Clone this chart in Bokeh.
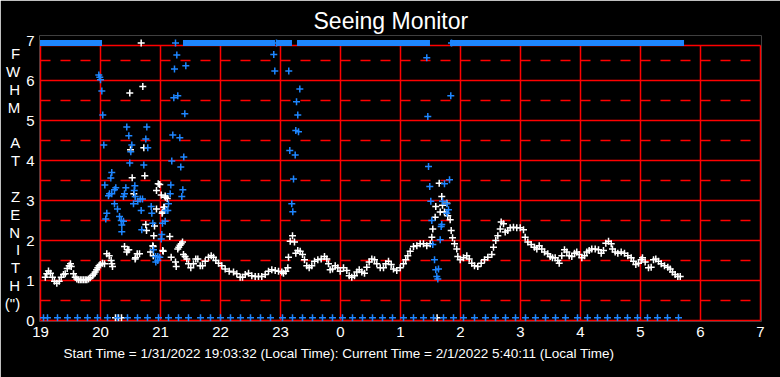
from bokeh.plotting import figure
from bokeh.models import Range1d, FixedTicker, Title
from bokeh.embed import file_html
from bokeh.resources import INLINE

# ---------------- data ----------------
TITLE = "Seeing Monitor"
CAPTION = "Start Time = 1/31/2022 19:03:32 (Local Time):  Current Time = 2/1/2022 5:40:11 (Local Time)"
Y_LABEL_LINES = ["F", "W", "H", "M", "", "A", "T", "", "Z", "E", "N", "I", "T", "H", "(\")"]
Y_TICKS = [0, 1, 2, 3, 4, 5, 6, 7]
X_TICK_HOURS = [19, 20, 21, 22, 23, 0, 1, 2, 3, 4, 5, 6, 7]

# main FWHM series (clock hours, arcsec)
WHITE_T = [19.08, 19.105, 19.133, 19.167, 19.2, 19.233, 19.272, 19.312, 19.345, 19.383, 19.412, 19.445,
           19.478, 19.5, 19.512, 19.55, 19.578, 19.605, 19.633, 19.662, 19.69, 19.717, 19.745, 19.772,
           19.8, 19.828, 19.867, 19.89, 19.912, 19.935, 19.955, 19.975, 19.995, 20.033, 20.067, 20.105,
           20.145, 20.178, 20.188, 20.2,
           20.4, 20.438, 20.455, 20.472, 20.578, 20.583, 20.612, 20.65, 20.833, 20.878, 20.88, 21.038,
           21.045, 21.178, 21.25, 21.262, 21.288, 21.305, 21.325, 21.345, 21.367, 21.383, 21.41, 21.438,
           21.467, 21.505, 21.55, 21.588, 21.622, 21.662, 21.7, 21.745, 21.8, 21.845, 21.883, 21.922,
           21.967, 22.022, 22.078, 22.145, 22.217, 22.272, 22.328, 22.367, 22.412, 22.467, 22.522, 22.578,
           22.633, 22.688, 22.745, 22.8, 22.855, 22.912, 22.967, 23.022, 23.05, 23.088, 23.122, 23.133,
           23.162, 23.2, 23.233, 23.255, 23.288, 23.328, 23.367, 23.4, 23.438, 23.478, 23.522, 23.567,
           23.622, 23.678, 23.733, 23.772, 23.8, 23.828, 23.867, 23.912, 23.955, 23.995,
           0.05, 0.105, 0.145, 0.188, 0.233, 0.272, 0.312, 0.355, 0.4, 0.438, 0.478, 0.522, 0.567, 0.605,
           0.662, 0.717, 0.755, 0.8, 0.845, 0.883, 0.938, 0.995, 1.05, 1.088, 1.122, 1.162, 1.217, 1.272,
           1.328, 1.383, 1.438, 1.495, 1.522, 1.538, 1.578, 1.588, 1.645, 1.662, 1.688, 1.7, 1.733, 1.772,
           1.788, 1.828, 1.845, 1.867, 1.9, 1.938, 1.955, 1.995, 2.05, 2.105, 2.145, 2.188, 2.233, 2.288,
           2.345, 2.4, 2.455, 2.522, 2.55, 2.588, 2.622, 2.662, 2.678, 2.717, 2.745, 2.788, 2.828, 2.883,
           2.938, 2.995, 3.05, 3.078, 3.122, 3.178, 3.233, 3.272, 3.312, 3.355, 3.4, 3.455, 3.495, 3.533,
           3.578, 3.622, 3.645, 3.688, 3.733, 3.772, 3.812, 3.855, 3.9, 3.938, 3.978, 4.022, 4.067, 4.105,
           4.145, 4.188, 4.245, 4.3, 4.345, 4.383, 4.422, 4.467, 4.512, 4.533, 4.578, 4.622, 4.678, 4.733,
           4.788, 4.845, 4.883, 4.922, 4.967, 5.012, 5.033, 5.078, 5.133, 5.178, 5.217, 5.255, 5.3, 5.345,
           5.4, 5.455, 5.495, 5.533, 5.578, 5.622, 5.662]
WHITE_V = [1.08, 1.17, 1.24, 1.18, 1.08, 0.98, 0.93, 0.98, 1.08, 1.15, 1.17, 1.3,
           1.37, 1.42, 1.35, 1.17, 1.08, 1.04, 1.02, 1.02, 1.02, 1.02, 1.02, 1.02,
           1.04, 1.07, 1.12, 1.16, 1.21, 1.27, 1.32, 1.37, 1.40, 1.43, 1.42, 1.67,
           1.62, 1.5, 1.42, 1.35,
           1.85, 1.71, 1.77, 1.77, 1.54, 1.57, 1.67, 1.67, 1.71, 1.85, 1.62, 1.75,
           1.73, 1.58, 1.46, 1.35, 1.79, 1.83, 1.88, 1.92, 1.96, 1.65, 1.6, 1.54,
           1.42, 1.32, 1.42, 1.54, 1.54, 1.37, 1.37, 1.48, 1.58, 1.62, 1.58, 1.5,
           1.43, 1.37, 1.29, 1.23, 1.21, 1.17, 1.08, 1.08, 1.15, 1.18, 1.12, 1.1,
           1.1, 1.1, 1.15, 1.23, 1.27, 1.25, 1.23, 1.21, 1.18, 1.23, 1.32, 1.58,
           1.98, 2.12, 1.96, 1.68, 1.75, 1.73, 1.65, 1.52, 1.37, 1.32, 1.37, 1.48,
           1.52, 1.54, 1.6, 1.54, 1.42, 1.27, 1.29, 1.37, 1.32, 1.23,
           1.32, 1.25, 1.12, 1.08, 1.12, 1.21, 1.27, 1.21, 1.18, 1.33, 1.46, 1.54, 1.52, 1.42,
           1.32, 1.32, 1.42, 1.48, 1.4, 1.29, 1.25, 1.32, 1.42, 1.52, 1.62, 1.73, 1.85, 1.87,
           1.92, 1.92, 1.87, 1.92, 2.08, 2.29, 2.58, 2.85, 3.43, 2.71, 3.1, 2.88, 2.71, 2.93,
           2.62, 2.52, 2.25, 2.07, 1.92, 1.79, 1.6, 1.52, 1.57, 1.62, 1.54, 1.43, 1.37, 1.35,
           1.43, 1.52, 1.58, 1.65, 1.83, 2.0, 2.12, 2.29, 2.46, 2.42, 2.21, 2.25, 2.32, 2.33,
           2.32, 2.32, 2.27, 2.08, 1.96, 1.9, 1.83, 1.79, 1.87, 1.79, 1.71, 1.67, 1.6, 1.57,
           1.57, 1.5, 1.43, 1.62, 1.77, 1.71, 1.62, 1.6, 1.68, 1.71, 1.65, 1.57, 1.62, 1.71,
           1.75, 1.79, 1.79, 1.77, 1.68, 1.75, 1.93, 1.98, 1.92, 1.79, 1.71, 1.68, 1.71, 1.68,
           1.62, 1.57, 1.48, 1.4, 1.43, 1.52, 1.57, 1.46, 1.32, 1.33, 1.52, 1.54, 1.48, 1.42,
           1.37, 1.33, 1.29, 1.21, 1.15, 1.1, 1.1]

# scattered values of the same series
WHITE_SCATTER_T = [20.705, 20.488, 20.5, 20.722, 20.528, 20.738, 20.962, 20.988, 20.933, 21.012, 20.555,
                   21.083, 21.112, 21.055, 20.933, 21.028, 20.755, 20.9, 20.767, 20.888, 21.155, 21.067,
                   21.033, 21.078, 20.872]
WHITE_SCATTER_V = [5.85, 5.69, 4.27, 4.32, 3.57, 3.62, 3.42, 3.40, 3.25, 3.14, 3.17,
                   3.08, 3.05, 2.83, 2.79, 2.68, 2.4, 2.36, 2.25, 2.12, 2.1, 2.83,
                   2.71, 3.11, 1.87]
WHITE_TOP_T = [20.678]
WHITE_BOTTOM_T = [20.25, 20.3, 20.35, 1.61]

# second (blue) series
BLUE_T = [19.972, 19.988, 20.0, 20.022, 20.038, 20.055,
          20.438, 20.772, 20.472, 20.755, 20.522, 20.788, 20.505, 20.488, 20.722,
          20.188, 20.172, 20.072, 20.255, 20.233, 20.422, 20.572, 20.562, 20.15, 20.188, 20.133, 20.4,
          20.383, 20.578, 20.662, 20.7, 20.622, 20.55, 20.233, 20.283, 20.845, 20.855, 20.105, 20.088,
          20.317, 20.345, 20.383, 20.355, 20.355, 20.678, 20.688, 20.872, 21.022, 21.012, 20.883, 20.917,
          20.955, 20.988, 20.922, 20.955,
          21.172, 21.133, 21.122, 21.088, 21.078, 21.033, 21.162, 21.372, 21.355,
          21.272, 21.233, 21.422, 21.222, 21.288, 21.405, 21.205, 21.322, 21.388, 21.188, 21.338,
          22.888, 22.905, 23.138, 23.322, 23.267, 23.288, 23.255, 23.3, 23.155, 23.245, 23.217, 23.188, 23.205,
          1.438, 1.838, 1.455, 1.467, 1.817, 1.733, 1.488, 1.505, 1.772, 1.7, 1.8, 1.772, 1.522, 1.688,
          1.678, 1.662, 1.538, 1.567, 1.588, 1.633, 1.605, 1.622]
BLUE_V = [6.14, 6.08, 6.02, 5.74, 5.14, 4.39,
          4.84, 4.84, 4.62, 4.54, 4.39, 4.32, 4.22, 3.94, 3.89,
          3.7, 3.56, 3.39, 3.32, 3.27, 3.32, 3.37, 3.25, 3.17, 3.17, 3.12, 3.17,
          3.1, 3.1, 3.04, 3.04, 2.98, 2.92, 2.92, 2.79, 2.85, 2.68, 2.68, 2.54,
          2.6, 2.5, 2.48, 2.39, 2.22, 2.75, 2.27, 2.43, 2.15, 2.04, 1.77, 1.6,
          1.6, 1.58, 1.46, 1.5,
          3.39, 2.92, 2.75, 2.75, 2.48, 2.43, 3.17, 3.27, 3.1,
          6.64, 6.29, 6.37, 5.57, 5.62, 5.17, 4.64, 4.57, 4.09, 3.99, 3.84,
          6.65, 6.24, 6.24, 5.79, 5.47, 5.14, 4.75, 4.72, 4.25, 4.14, 3.54, 2.92, 2.72,
          6.57, 5.62, 5.1, 3.85, 3.52, 3.42, 3.35, 2.98, 2.92, 2.98, 2.77, 2.68, 2.5, 2.4,
          2.35, 2.02, 1.9, 1.52, 1.27, 1.29, 1.1, 1.04]

# off-scale (top row) runs of the blue series, clock hours
TOP_RUN_START = [19.05, 21.433, 23.0, 23.333, 1.883]
TOP_RUN_END = [19.967, 22.85, 23.133, 1.433, 5.667]
TOP_SINGLE_T = [21.25, 22.933, 1.85]
TOP_VALUE = 6.94

# bottom-row samples (minutes after 19:00)
BOTTOM_MIN = [3, 7, 17, 27, 37, 47, 57, 67, 77, 87, 97, 107, 118, 128, 138, 148, 160, 170, 180, 190,
              200, 210, 220, 230, 242, 252, 262, 272, 282, 292, 302, 312, 322, 332, 342, 352, 363, 373,
              383, 393, 403, 413, 423, 434, 445, 455, 465, 475, 485, 495, 505, 515, 525, 537, 547, 557,
              567, 577, 587, 597, 607, 617, 627, 638]
BOTTOM_VALUE = 0.07


def ax(h):
    """clock hour -> continuous axis hour (19..31)"""
    return h + 24 if h < 12 else h


WHITE = "#FFFFFF"
BLUE = "#1E86FF"
RED = "#FF0000"
FONT = "Liberation Sans"

# ---------------- figure ----------------
x0 = X_TICK_HOURS[0]
x1 = ax(X_TICK_HOURS[-1])
p = figure(width=780, height=377,
           x_range=Range1d(x0 - 1 / 60, x1 + 1 / 60),
           y_range=Range1d(-0.025, 7.125),
           output_backend="svg", toolbar_location=None,
           min_border_left=39, min_border_right=19, min_border_top=35, min_border_bottom=56,
           background_fill_color="black", border_fill_color="black", outline_line_color=None)
p.xgrid.visible = False
p.ygrid.visible = False

# grid lines
hours = [ax(h) for h in X_TICK_HOURS]
top_border = 6.875
p.segment(x0=hours, y0=[0] * len(hours), x1=hours, y1=[top_border] * len(hours),
          line_color=RED, line_width=1.5)
solid_y = [0, 1, 2, 3, 4, 5, 6, top_border]
p.segment(x0=[x0] * len(solid_y), y0=solid_y, x1=[x1] * len(solid_y), y1=solid_y,
          line_color=RED, line_width=1.5)
half_y = [t + 0.5 for t in Y_TICKS[:-1]]
p.segment(x0=[x0] * len(half_y), y0=half_y, x1=[x1] * len(half_y), y1=half_y,
          line_color=RED, line_width=1.5, line_dash="10 10")

# white series
p.scatter([ax(t) for t in WHITE_T], WHITE_V, marker="cross", size=7, line_color=WHITE, line_width=1.5)
p.scatter([ax(t) for t in WHITE_SCATTER_T], WHITE_SCATTER_V, marker="cross", size=7,
          line_color=WHITE, line_width=1.5)
p.scatter([ax(t) for t in WHITE_TOP_T], [TOP_VALUE] * len(WHITE_TOP_T), marker="cross", size=7,
          line_color=WHITE, line_width=1.5)
p.scatter([ax(t) for t in WHITE_BOTTOM_T], [BOTTOM_VALUE] * len(WHITE_BOTTOM_T), marker="cross", size=7,
          line_color=WHITE, line_width=1.5)

# blue series
p.scatter([ax(t) for t in BLUE_T], BLUE_V, marker="cross", size=7, line_color=BLUE, line_width=1.5)
half_w = 3.5 / 60
p.quad(left=[ax(t) - half_w for t in TOP_RUN_START], right=[ax(t) + half_w for t in TOP_RUN_END],
       bottom=[TOP_VALUE - 0.075] * len(TOP_RUN_START), top=[TOP_VALUE + 0.075] * len(TOP_RUN_START),
       fill_color=BLUE, line_color=None)
p.scatter([ax(t) for t in TOP_SINGLE_T], [TOP_VALUE] * len(TOP_SINGLE_T), marker="cross", size=7,
          line_color=BLUE, line_width=1.5)
p.scatter([19 + m / 60 for m in BOTTOM_MIN], [BOTTOM_VALUE] * len(BOTTOM_MIN), marker="cross", size=7,
          line_color=BLUE, line_width=1.5)

# axes
p.xaxis.ticker = FixedTicker(ticks=hours)
p.xaxis.major_label_overrides = {hv: str(h) for hv, h in zip(hours, X_TICK_HOURS)}
p.yaxis.ticker = FixedTicker(ticks=Y_TICKS)
for a in (p.xaxis, p.yaxis):
    a.axis_line_color = None
    a.major_tick_line_color = None
    a.minor_tick_line_color = None
    a.major_tick_out = 0
    a.major_tick_in = 0
    a.minor_tick_out = 0
    a.minor_tick_in = 0
    a.major_label_text_color = WHITE
    a.major_label_text_font = FONT
    a.major_label_text_font_size = "15px"
p.xaxis.major_label_standoff = 5
p.yaxis.major_label_standoff = 5

# vertical stacked y-axis label
p.yaxis.axis_label = "\n".join(Y_LABEL_LINES)
p.yaxis.axis_label_orientation = "horizontal"
p.yaxis.axis_label_text_color = WHITE
p.yaxis.axis_label_text_font = FONT
p.yaxis.axis_label_text_font_style = "normal"
p.yaxis.axis_label_text_font_size = "15px"
p.yaxis.axis_label_text_line_height = 1.05
p.yaxis.axis_label_standoff = 3

# title and caption
p.title.text = TITLE
p.title.align = "left"
p.title.offset = 274
p.title.standoff = 4
p.title.text_color = WHITE
p.title.text_font = FONT
p.title.text_font_style = "normal"
p.title.text_font_size = "23px"

cap = Title(text=CAPTION, align="left", offset=24, standoff=8, text_color=WHITE, text_font=FONT,
            text_font_style="normal", text_font_size="13.5px")
p.add_layout(cap, "below")

open("out.html", "w").write(file_html(p, INLINE))
